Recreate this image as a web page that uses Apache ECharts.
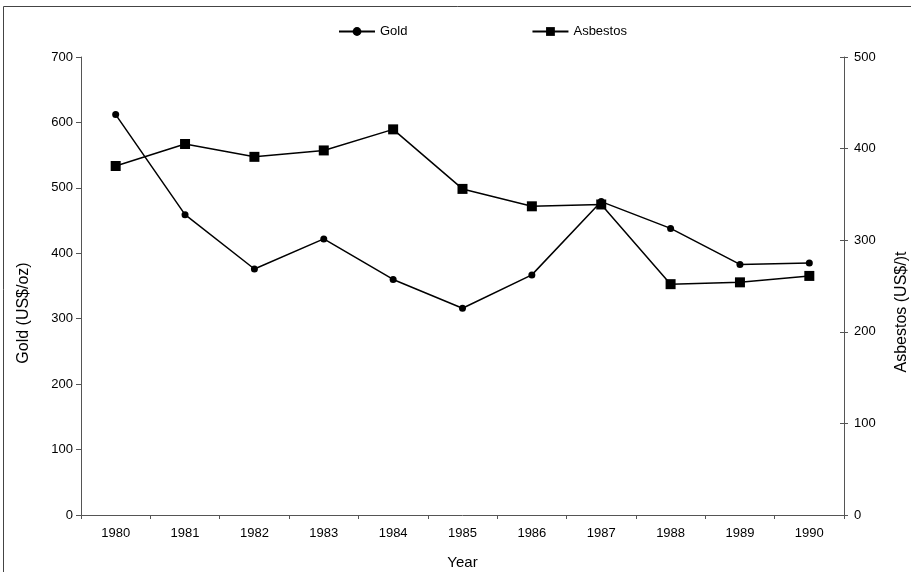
<!DOCTYPE html>
<html><head><meta charset="utf-8">
<script src="https://cdn.jsdelivr.net/npm/echarts@6/dist/echarts.min.js"></script>
<style>html,body{margin:0;padding:0;background:#fff}#c{width:911px;height:572px}</style>
</head><body><div id="c"></div>
<script>
const years = ['1980','1981','1982','1983','1984','1985','1986','1987','1988','1989','1990'];
const gold = [612, 459, 376, 422, 360, 316, 367, 479, 438, 383, 385];
const asbestos = [381, 405, 391, 398, 421, 356, 337, 339, 252, 254, 261];
const goldTicks = [0, 700, 100];
const asbTicks = [0, 500, 100];
const titles = {x: 'Year', left: 'Gold (US$/oz)', right: 'Asbestos (US$/)t'};

const font = 'Liberation Sans, Arial, sans-serif';
const axisCol = '#555';
const chart = echarts.init(document.getElementById('c'));
chart.setOption({
  animation: false,
  backgroundColor: '#fff',
  textStyle: {fontFamily: font},
  graphic: [
    {type: 'rect', shape: {x: 3.5, y: 6.5, width: 950, height: 650}, style: {fill: 'none', stroke: '#444', lineWidth: 1}, silent: true, z: -1},
    {type: 'text', x: 24, y: 313, rotation: Math.PI / 2, style: {text: titles.left, font: '16px ' + font, fill: '#000', align: 'center', verticalAlign: 'middle'}},
    {type: 'text', x: 902, y: 312, rotation: Math.PI / 2, style: {text: titles.right, font: '16px ' + font, fill: '#000', align: 'center', verticalAlign: 'middle'}}
  ],
  legend: {
    top: 20, left: 333, itemGap: 124, itemWidth: 36, itemHeight: 11,
    textStyle: {fontFamily: font, fontSize: 13, color: '#000'},
    data: ['Gold', 'Asbestos']
  },
  grid: {left: 81, right: 67, top: 57, bottom: 57, outerBoundsMode: 'none', containLabel: false},
  xAxis: {
    type: 'category', data: years, boundaryGap: true,
    name: titles.x, nameLocation: 'middle', nameGap: 40,
    nameTextStyle: {fontFamily: font, fontSize: 15, color: '#000'},
    axisLine: {lineStyle: {color: axisCol, width: 1}},
    axisTick: {show: true, alignWithLabel: false, length: 4, lineStyle: {color: axisCol}},
    axisLabel: {fontFamily: font, fontSize: 13, color: '#000', margin: 12}
  },
  yAxis: [{
    type: 'value', min: goldTicks[0], max: goldTicks[1], interval: goldTicks[2], position: 'left',
    axisLine: {show: true, lineStyle: {color: axisCol}},
    axisTick: {show: true, length: 5, lineStyle: {color: axisCol}},
    axisLabel: {fontFamily: font, fontSize: 13, color: '#000', margin: 8},
    splitLine: {show: false}
  }, {
    type: 'value', min: asbTicks[0], max: asbTicks[1], interval: asbTicks[2], position: 'right',
    axisLine: {show: true, lineStyle: {color: axisCol}},
    axisTick: {show: true, length: 4, lineStyle: {color: axisCol}},
    axisLabel: {fontFamily: font, fontSize: 13, color: '#000', margin: 10},
    splitLine: {show: false}
  }, {
    type: 'value', min: asbTicks[0], max: asbTicks[1], interval: asbTicks[2], position: 'right',
    axisLine: {show: false},
    axisTick: {show: true, inside: true, length: 4, lineStyle: {color: axisCol}},
    axisLabel: {show: false},
    splitLine: {show: false}
  }],
  series: [{
    name: 'Gold', type: 'line', yAxisIndex: 0, data: gold,
    symbol: 'circle', symbolSize: 7, showAllSymbol: true,
    lineStyle: {color: '#000', width: 1.5}, itemStyle: {color: '#000'}, z: 2
  }, {
    name: 'Asbestos', type: 'line', yAxisIndex: 1, data: asbestos,
    symbol: 'rect', symbolSize: 10, showAllSymbol: true,
    lineStyle: {color: '#000', width: 1.5}, itemStyle: {color: '#000'}, z: 3
  }]
});
</script></body></html>
